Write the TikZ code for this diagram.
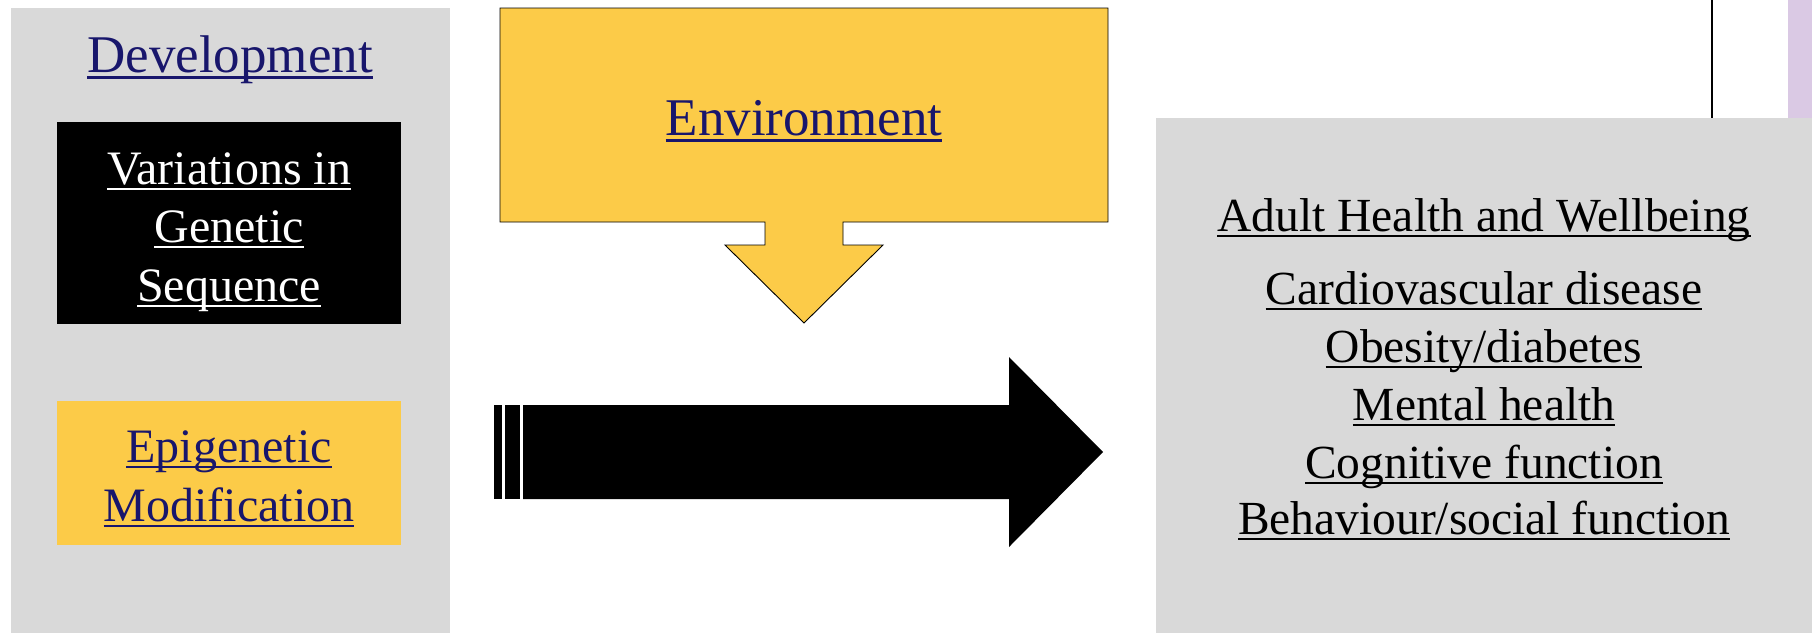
\documentclass[tikz,border=0pt]{standalone}
\usepackage{fontspec}
\setmainfont{Liberation Serif}
\newcommand\myul[1]{\setbox0=\hbox{#1}\rlap{\rule[-0.13em]{\wd0}{0.05em}}\box0}
\definecolor{panelgray}{RGB}{217,217,217}
\definecolor{envyellow}{RGB}{252,203,72}
\definecolor{navy}{RGB}{24,22,108}
\definecolor{lilac}{RGB}{218,201,228}
\tikzset{
  panel/.style={fill=panelgray},
  yellowbox/.style={fill=envyellow},
  callout/.style={fill=envyellow, draw=black, line width=0.9pt, line join=miter},
  bigarrow/.style={fill=black},
  lbl/.style={anchor=base, inner sep=0pt, outer sep=0pt},
  bigtxt/.style={lbl, font=\fontsize{53}{60}\selectfont},
  boxtxt/.style={lbl, font=\fontsize{48}{58}\selectfont},
  listtxt/.style={lbl, font=\fontsize{47.5}{57}\selectfont, text=black},
}
\begin{document}
\begin{tikzpicture}[x=1pt,y=-1pt]
\useasboundingbox (0,0) rectangle (1812,633);
% backgrounds
\fill[white] (0,0) rectangle (1812,633);
\fill[lilac] (1788,0) rectangle (1812,118);
\draw[black, line width=1.3pt] (1712,0) -- (1712,118);
% left panel
\fill[panel] (11,8) rectangle (450,633);
\fill[black] (57,122) rectangle (401,324);
\fill[yellowbox] (57,401) rectangle (401,545);
\node[bigtxt, text=navy] (dev) at (230,72) {\myul{Development}};
\node[boxtxt, text=white] (var1) at (229,184) {\myul{Variations in}};
\node[boxtxt, text=white] (var2) at (229,242) {\myul{Genetic}};
\node[boxtxt, text=white] (var3) at (229,301) {\myul{Sequence}};
\node[boxtxt, text=navy] (epi1) at (229,462) {\myul{Epigenetic}};
\node[boxtxt, text=navy] (epi2) at (229,521) {\myul{Modification}};
% environment callout
\path[callout] (500,8) -- (1108,8) -- (1108,222) -- (843,222) -- (843,245) -- (883,245)
  -- (804,323) -- (725,245) -- (765,245) -- (765,222) -- (500,222) -- cycle;
\node[bigtxt, text=navy] (env) at (804,135) {\myul{Environment}};
% striped block arrow
\fill[bigarrow] (494,405) rectangle (501.6,499);
\fill[bigarrow] (505.3,405) rectangle (519.6,499);
\fill[bigarrow] (523,405) -- (1009,405) -- (1009,357) -- (1103,452) -- (1009,547)
  -- (1009,499) -- (523,499) -- cycle;
% right panel
\fill[panel] (1156,118) rectangle (1812,633);
\node[listtxt] (adult) at (1484,231) {\myul{Adult Health and Wellbeing}};
\node[listtxt] (cvd) at (1484,304) {\myul{Cardiovascular disease}};
\node[listtxt] (obes) at (1484,362) {\myul{Obesity/diabetes}};
\node[listtxt] (ment) at (1484,420) {\myul{Mental health}};
\node[listtxt] (cogn) at (1484,478) {\myul{Cognitive function}};
\node[listtxt] (behav) at (1484,534) {\myul{Behaviour/social function}};
\end{tikzpicture}
\end{document}
